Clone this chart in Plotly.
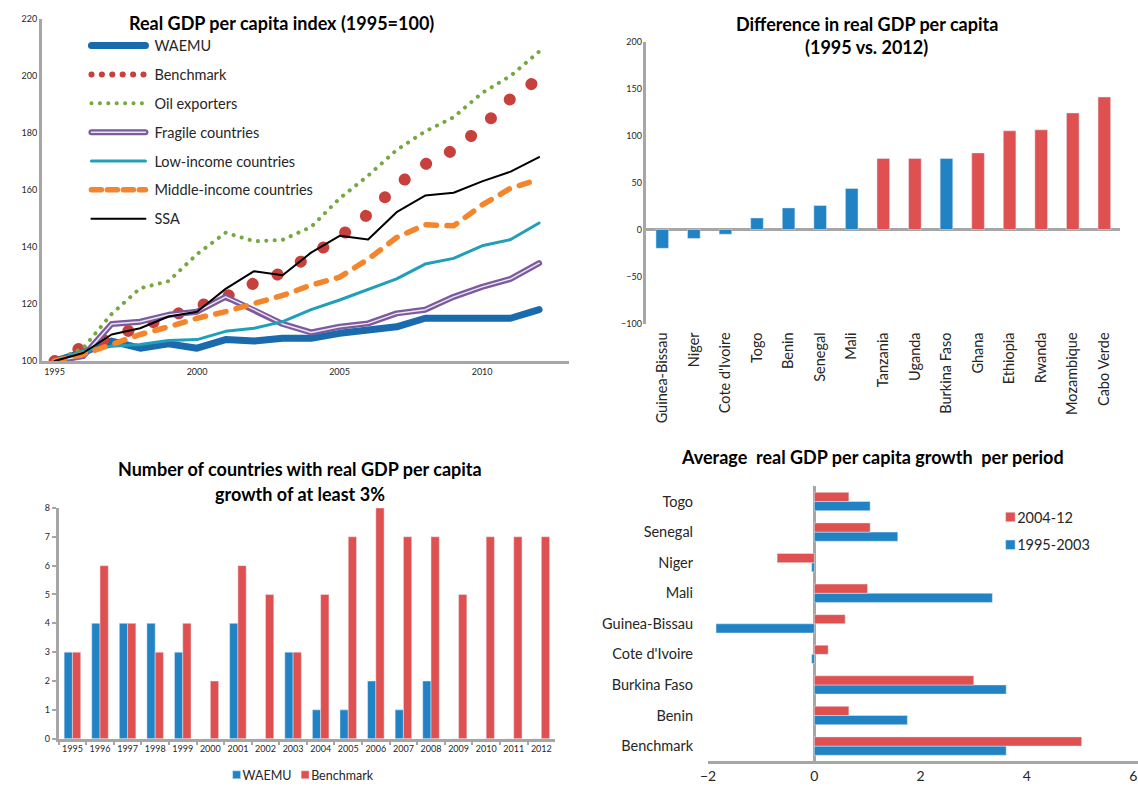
import plotly.graph_objects as go

W, H = 1138, 793

# ---------------- Real GDP per capita index (1995=100) ----------------
years = list(range(1995, 2013))
waemu_idx = [100, 103, 107, 104.5, 106, 104.5, 107.5, 107, 108, 108, 109.7, 111, 112, 115, 115, 115, 115, 118]
benchmark_idx = [100, 105, 108.5, 111.8, 115.2, 118.5, 122.5, 127.3, 131, 137, 143.5, 151.5, 161.5, 169, 174, 182, 192, 199]
oil_idx = [100, 104.5, 116.5, 125.5, 128, 137.5, 145, 142, 142.5, 147, 157, 165, 174, 180.5, 185.5, 194, 200, 208.5]
fragile_idx = [100, 101.7, 113, 113.8, 116.2, 117.3, 122.5, 118, 113, 110, 112, 113.2, 116.7, 118, 122.5, 126, 128.8, 134.3]
low_income_idx = [100, 103.5, 105.2, 105.8, 107.2, 107.5, 110.4, 111.5, 113.8, 118, 121.4, 125.2, 128.8, 134, 136, 140.4, 142.6, 148.4]
middle_income_idx = [100, 102.3, 105.8, 109.3, 112, 115, 117.3, 120, 123, 126.6, 129.4, 135.7, 143.3, 147.8, 147.4, 154.7, 160.6, 163.7]
ssa_idx = [100, 102.8, 109.3, 111.5, 115.6, 117.3, 125.3, 131.5, 130.1, 138, 143.9, 142.6, 152.2, 158, 159, 163, 166.4, 171.5]

# ---------------- Difference in real GDP per capita ----------------
countries = ["Guinea-Bissau", "Niger", "Cote d'Ivoire", "Togo", "Benin", "Senegal", "Mali",
             "Tanzania", "Uganda", "Burkina Faso", "Ghana", "Ethiopia", "Rwanda", "Mozambique", "Cabo Verde"]
country_group = ["WAEMU", "WAEMU", "WAEMU", "WAEMU", "WAEMU", "WAEMU", "WAEMU",
                 "Benchmark", "Benchmark", "WAEMU", "Benchmark", "Benchmark", "Benchmark", "Benchmark", "Benchmark"]
gdp_diff = [-20, -9.5, -5, 12.3, 23, 25.5, 43.7, 75.5, 75.5, 75.5, 81.5, 105, 106, 124, 141]

# ---------------- Countries with growth >= 3% ----------------
count_years = [str(y) for y in range(1995, 2013)]
waemu_count = [3, 4, 4, 4, 3, 0, 4, 0, 3, 1, 1, 2, 1, 2, 0, 0, 0, 0]
benchmark_count = [3, 6, 4, 3, 4, 2, 6, 5, 3, 5, 7, 8, 7, 7, 5, 7, 7, 7]

# ---------------- Average growth per period ----------------
period_countries = ["Benchmark", "Benin", "Burkina Faso", "Cote d'Ivoire", "Guinea-Bissau",
                    "Mali", "Niger", "Senegal", "Togo"]
growth_1995_2003 = [3.61, 1.75, 3.61, -0.05, -1.85, 3.35, -0.05, 1.57, 1.05]
growth_2004_12 = [5.03, 0.65, 3.0, 0.26, 0.58, 1.0, -0.7, 1.05, 0.65]

# colours
C_WAEMU = "#1a6aae"
C_BENCH = "#c8403c"
C_OIL = "#77a740"
C_FRAG = "#7b5a9e"
C_FRAG_IN = "#ece6f3"
C_LOW = "#1f9fb8"
C_MID = "#f5852a"
C_SSA = "#000000"
BAR_BLUE = "#2182c4"
BAR_RED = "#df5050"
AXIS = "#a6a6a6"
FONT = "Lato"
TXT = "#262626"


def px_x(a, b):
    return [a / W, b / W]


def px_y(top, bottom):
    return [(H - bottom) / H, (H - top) / H]


fig = go.Figure()

# ---- line chart ----
line_series = [
    ("WAEMU", waemu_idx, dict(color=C_WAEMU, width=7)),
    ("Benchmark", benchmark_idx, dict(color=C_BENCH, width=12, dash="0.5px,26px")),
    ("Oil exporters", oil_idx, dict(color=C_OIL, width=4, dash="0.5px,8px")),
    ("Fragile countries", fragile_idx, dict(color=C_FRAG, width=6)),
    ("Low-income countries", low_income_idx, dict(color=C_LOW, width=3)),
    ("Middle-income countries", middle_income_idx, dict(color=C_MID, width=5.5, dash="10.5px,10.5px")),
    ("SSA", ssa_idx, dict(color=C_SSA, width=2)),
]
for name, vals, ln in line_series:
    fig.add_trace(go.Scatter(x=years, y=vals, name=name, mode="lines", line=ln,
                             legend="legend", legendgroup=name, xaxis="x", yaxis="y"))
    if name == "Fragile countries":
        # thin light core gives the double-line look
        fig.add_trace(go.Scatter(x=years, y=vals, mode="lines", showlegend=False,
                                 line=dict(color=C_FRAG_IN, width=1.5),
                                 legendgroup=name, xaxis="x", yaxis="y", hoverinfo="skip"))

# ---- difference bars ----
fig.add_trace(go.Bar(x=countries, y=gdp_diff, width=0.4, showlegend=False,
                     marker=dict(color=[BAR_BLUE if g == "WAEMU" else BAR_RED for g in country_group]),
                     xaxis="x2", yaxis="y2"))

# ---- count bars ----
fig.add_trace(go.Bar(x=count_years, y=waemu_count, name="WAEMU", marker_color=BAR_BLUE,
                     legend="legend2", xaxis="x3", yaxis="y3"))
fig.add_trace(go.Bar(x=count_years, y=benchmark_count, name="Benchmark", marker_color=BAR_RED,
                     legend="legend4", xaxis="x3", yaxis="y3"))

# ---- period growth bars ----
fig.add_trace(go.Bar(y=period_countries, x=growth_1995_2003, name="1995-2003", orientation="h",
                     marker_color=BAR_BLUE, legend="legend3", legendgroup="p1", legendrank=2,
                     xaxis="x4", yaxis="y4"))
fig.add_trace(go.Bar(y=period_countries, x=growth_2004_12, name="2004-12", orientation="h",
                     marker_color=BAR_RED, legend="legend3", legendgroup="p2", legendrank=1,
                     xaxis="x4", yaxis="y4"))

tick_small = dict(family=FONT, size=9, color=TXT)
axis_common = dict(showgrid=False, showline=True, linecolor=AXIS, linewidth=2.5, zeroline=False)
small_legend = dict(orientation="h", y=(H - 780) / H, xanchor="left", yanchor="middle",
                    bgcolor="rgba(0,0,0,0)", font=dict(family=FONT, size=12.5, color=TXT), itemwidth=30)

fig.update_layout(
    width=W, height=H,
    margin=dict(l=0, r=0, t=0, b=0),
    paper_bgcolor="white", plot_bgcolor="white",
    font=dict(family=FONT, color=TXT),
    barmode="group", bargap=0.4, bargroupgap=0,
    # line chart axes
    xaxis=dict(domain=px_x(34, 565), range=[1994.55, 2013.05], tickvals=[1995, 2000, 2005, 2010],
               tickfont=tick_small, ticks="", anchor="y", **axis_common),
    yaxis=dict(domain=px_y(13, 360), range=[100, 220], dtick=20, tickfont=tick_small,
               ticks="", anchor="x", **axis_common),
    # difference chart axes
    xaxis2=dict(domain=px_x(643, 1120), range=[-0.5, 14.5], showgrid=False, showline=False,
                zeroline=False, tickangle=-90, tickfont=dict(family=FONT, size=14.5, color=TXT),
                ticklabelstandoff=5, anchor="y2"),
    yaxis2=dict(domain=px_y(36, 322), range=[-100, 200], dtick=50, tickfont=tick_small,
                showgrid=False, showline=True, linecolor=AXIS, linewidth=2.5,
                zeroline=True, zerolinecolor=AXIS, zerolinewidth=2.5, anchor="x2"),
    # count chart axes
    xaxis3=dict(domain=px_x(51, 551), range=[-0.5, 17.5], tickfont=tick_small, ticks="outside",
                tickangle=0, tickson="boundaries", ticklen=4, tickcolor=AXIS, tickwidth=1.5,
                anchor="y3", **axis_common),
    yaxis3=dict(domain=px_y(509, 743), range=[0, 8], dtick=1, tickfont=tick_small, ticks="outside",
                ticklen=4, tickcolor=AXIS, tickwidth=1.5, anchor="x3", **axis_common),
    # period growth axes
    xaxis4=dict(domain=px_x(705, 1138), range=[-2, 6.09], dtick=2,
                tickfont=dict(family=FONT, size=14, color=TXT),
                showgrid=False, showline=True, linecolor=AXIS, linewidth=2.5,
                zeroline=True, zerolinecolor=AXIS, zerolinewidth=2.5, anchor="y4"),
    yaxis4=dict(domain=px_y(487, 766), range=[-0.5, 8.5], showgrid=False, showline=False, zeroline=False,
                tickfont=dict(family=FONT, size=14.5, color=TXT), ticklabelstandoff=14, anchor="x4"),
    legend=dict(x=79 / W, y=(H - 24) / H, xanchor="left", yanchor="top", bgcolor="rgba(0,0,0,0)",
                font=dict(family=FONT, size=14.5, color=TXT), itemwidth=58, traceorder="grouped",
                tracegroupgap=7),
    legend2=dict(x=196 / W, **small_legend),
    legend4=dict(x=265 / W, **small_legend),
    legend3=dict(x=976 / W, y=(H - 502) / H, xanchor="left", yanchor="top", bgcolor="rgba(0,0,0,0)",
                 font=dict(family=FONT, size=14.5, color=TXT), traceorder="grouped",
                 tracegroupgap=6),
    showlegend=True,
)

title_font = dict(family=FONT, size=18, color="#000000")
titles = [
    ("<b>Real GDP per capita index (1995=100)</b>", 275, 17),
    ("<b>Difference in real GDP per capita</b>", 865, 18),
    ("<b>(1995 vs. 2012)</b>", 865, 42),
    ("<b>Number of countries with real GDP per capita</b>", 294, 470),
    ("<b>growth of at least 3%</b>", 294, 495),
    ("<b>Average  real GDP per capita growth  per period</b>", 871, 457),
]
for text, cx, cy in titles:
    fig.add_annotation(text=text, x=cx / W, y=(H - cy) / H, xref="paper", yref="paper",
                       xanchor="center", yanchor="middle", showarrow=False, font=title_font)

# Round line caps, dot patterns for the dotted / dashed series, and compact legend swatches
post = """
var gd = document.getElementById('{plot_id}');
var styles = {
  'rgb(200, 64, 60)': {plot: '0.1,26.5', legend: '0.1,10.3', lw: '6px'},
  'rgb(119, 167, 64)': {plot: '0.1,8.3', legend: '0.1,8.3'},
  'rgb(245, 133, 42)': {plot: '10.5,10.5', legend: '10,6'}
};
gd.querySelectorAll('path.js-line').forEach(function(p) {
  p.style.strokeLinecap = 'round';
  p.style.strokeLinejoin = 'round';
  var inLegend = p.closest('.legendlines') !== null;
  if (inLegend) { p.setAttribute('d', 'M5,0h54'); }
  var s = styles[p.style.stroke];
  if (s) {
    p.style.strokeDasharray = inLegend ? s.legend : s.plot;
    if (inLegend && s.lw) { p.style.strokeWidth = s.lw; }
  }
  if (inLegend && p.style.stroke === 'rgb(123, 90, 158)') {
    var c = p.cloneNode();
    c.style.stroke = '#ece6f3';
    c.style.strokeWidth = '1.5px';
    p.parentNode.appendChild(c);
  }
});
try {
  var swatches = Array.prototype.filter.call(gd.querySelectorAll('path'), function(p) {
    return (p.getAttribute('d') || '').replace(/\\s/g, '') === 'M6,6H-6V-6H6Z';
  });
  swatches.forEach(function(p) {
    var item = p.parentNode;
    while (item && !(item.classList && item.classList.contains('traces'))) { item = item.parentNode; }
    if (!item) { return; }
    var t = item.querySelector('text');
    if (!t) { return; }
    var pr = p.getBoundingClientRect(), tr = t.getBoundingClientRect();
    var cx = pr.left + pr.width / 2;
    var name = t.textContent;
    var sz = (name === 'WAEMU' || name === 'Benchmark') ? 8 : 9.5, h = sz / 2;
    var r = (tr.left - 2) - cx;
    p.setAttribute('d', 'M' + r + ',' + h + 'H' + (r - sz) + 'V' + (-h) + 'H' + r + 'Z');
  });
} catch (e) {
  var msg = document.createElement('div');
  msg.textContent = 'swatch error: ' + e;
  document.body.appendChild(msg);
}
"""

fig.write_html("out.html", post_script=post, config={"displayModeBar": False})
